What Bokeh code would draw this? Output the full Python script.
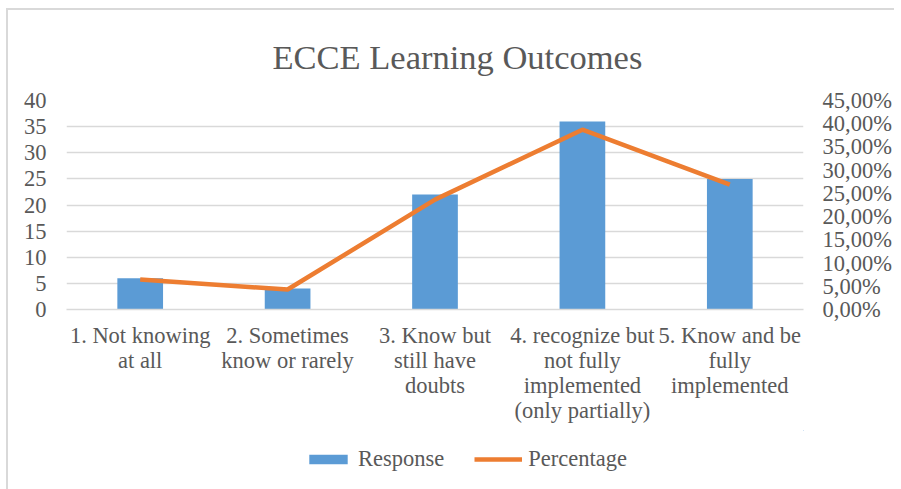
from bokeh.plotting import figure
from bokeh.models import (Range1d, LinearAxis, FixedTicker, Legend, LegendItem,
                          FactorRange, ColumnDataSource)
from bokeh.layouts import column
from bokeh.embed import file_html
from bokeh.resources import INLINE

categories = ["1. Not knowing\nat all",
              "2. Sometimes\nknow or rarely",
              "3. Know but\nstill have\ndoubts",
              "4. recognize but\nnot fully\nimplemented\n(only partially)",
              "5. Know and be\nfully\nimplemented"]
response = [6, 4, 22, 36, 25]
percentage = [6.45, 4.30, 23.66, 38.71, 26.88]
left_ticks = [0, 5, 10, 15, 20, 25, 30, 35, 40]
right_ticks = [0, 5, 10, 15, 20, 25, 30, 35, 40, 45]
right_labels = ["0,00%", "5,00%", "10,00%", "15,00%", "20,00%", "25,00%",
                "30,00%", "35,00%", "40,00%", "45,00%"]

FONT = "Liberation Serif, Times New Roman, serif"
TXT = "#595959"
GRID = "#D9D9D9"
BLUE = "#5B9BD5"
ORANGE = "#ED7D31"
FS = "22.5px"

src = ColumnDataSource(dict(cat=categories, resp=response, pct=percentage))

p = figure(width=886, height=420, output_backend="svg", toolbar_location=None,
           x_range=FactorRange(*categories), y_range=Range1d(0, 40),
           min_border_left=58, min_border_right=88, min_border_top=89,
           min_border_bottom=121, title="ECCE Learning Outcomes")
p.outline_line_color = None
p.extra_y_ranges = {"pct": Range1d(0, 45)}

p.title.align = "left"
p.title.offset = 206
p.title.text_font = FONT
p.title.text_font_size = "34.5px"
p.title.text_font_style = "normal"
p.title.text_color = TXT
p.title.text_line_height = 1.0
p.title.standoff = 50

bars = p.vbar(x="cat", top="resp", width=0.31, source=src, fill_color=BLUE, line_color=None)
line = p.line(x="cat", y="pct", source=src, y_range_name="pct", line_color=ORANGE, line_width=4.5)

# left axis
ya = p.yaxis[0]
ya.ticker = FixedTicker(ticks=left_ticks)
ya.axis_line_color = None
ya.major_tick_line_color = None
ya.minor_tick_line_color = None
ya.major_label_text_font = FONT
ya.major_label_text_font_size = FS
ya.major_label_text_color = TXT
ya.major_label_standoff = 14

# right axis
ra = LinearAxis(y_range_name="pct", ticker=FixedTicker(ticks=right_ticks),
                major_label_overrides={t: l for t, l in zip(right_ticks, right_labels)})
ra.axis_line_color = None
ra.major_tick_line_color = None
ra.minor_tick_line_color = None
ra.major_label_text_font = FONT
ra.major_label_text_font_size = FS
ra.major_label_text_color = TXT
ra.major_label_standoff = 13
p.add_layout(ra, "right")

# x axis
xa = p.xaxis[0]
xa.axis_line_color = GRID
xa.axis_line_width = 1.5
xa.major_tick_line_color = None
xa.minor_tick_line_color = None
xa.major_label_text_font = FONT
xa.major_label_text_font_size = FS
xa.major_label_text_color = TXT
xa.major_label_text_line_height = 1.0
xa.major_label_standoff = 7
xa.major_label_orientation = "horizontal"

p.xgrid.grid_line_color = None
p.ygrid.grid_line_color = GRID
p.ygrid.grid_line_width = 1.5
p.ygrid.ticker = FixedTicker(ticks=left_ticks)

# legend strip below the chart (proxy renderers use the data but lie outside the view)
lg = figure(width=886, height=60, output_backend="svg", toolbar_location=None,
            x_range=Range1d(-20, -19), y_range=Range1d(-20, -19),
            x_axis_location=None, y_axis_location=None,
            min_border_left=0, min_border_right=0, min_border_top=0, min_border_bottom=0)
lg.outline_line_color = None
lg.grid.visible = False
lsrc = ColumnDataSource(dict(x=response, top=response, y=percentage))
lg_bar = lg.vbar(x="x", top="top", width=0.3, source=lsrc, fill_color=BLUE, line_color=None)
lg_line = lg.line(x="x", y="y", source=lsrc, line_color=ORANGE, line_width=4.5)

legend = Legend(items=[LegendItem(label="Response", renderers=[lg_bar]),
                       LegendItem(label="Percentage", renderers=[lg_line])],
                orientation="horizontal", location=(238, 18),
                glyph_width=48, glyph_height=12, label_standoff=6, spacing=30,
                padding=0, margin=0, border_line_color=None,
                background_fill_alpha=0,
                label_text_font=FONT, label_text_font_size=FS,
                label_text_color=TXT)
lg.add_layout(legend, "center")

layout = column(p, lg, spacing=0)
layout.styles = {"margin-left": "6px", "margin-top": "8px",
                 "border-left": "2px solid #D9D9D9", "border-top": "2px solid #D9D9D9"}

open("out.html", "w").write(file_html(layout, INLINE))
